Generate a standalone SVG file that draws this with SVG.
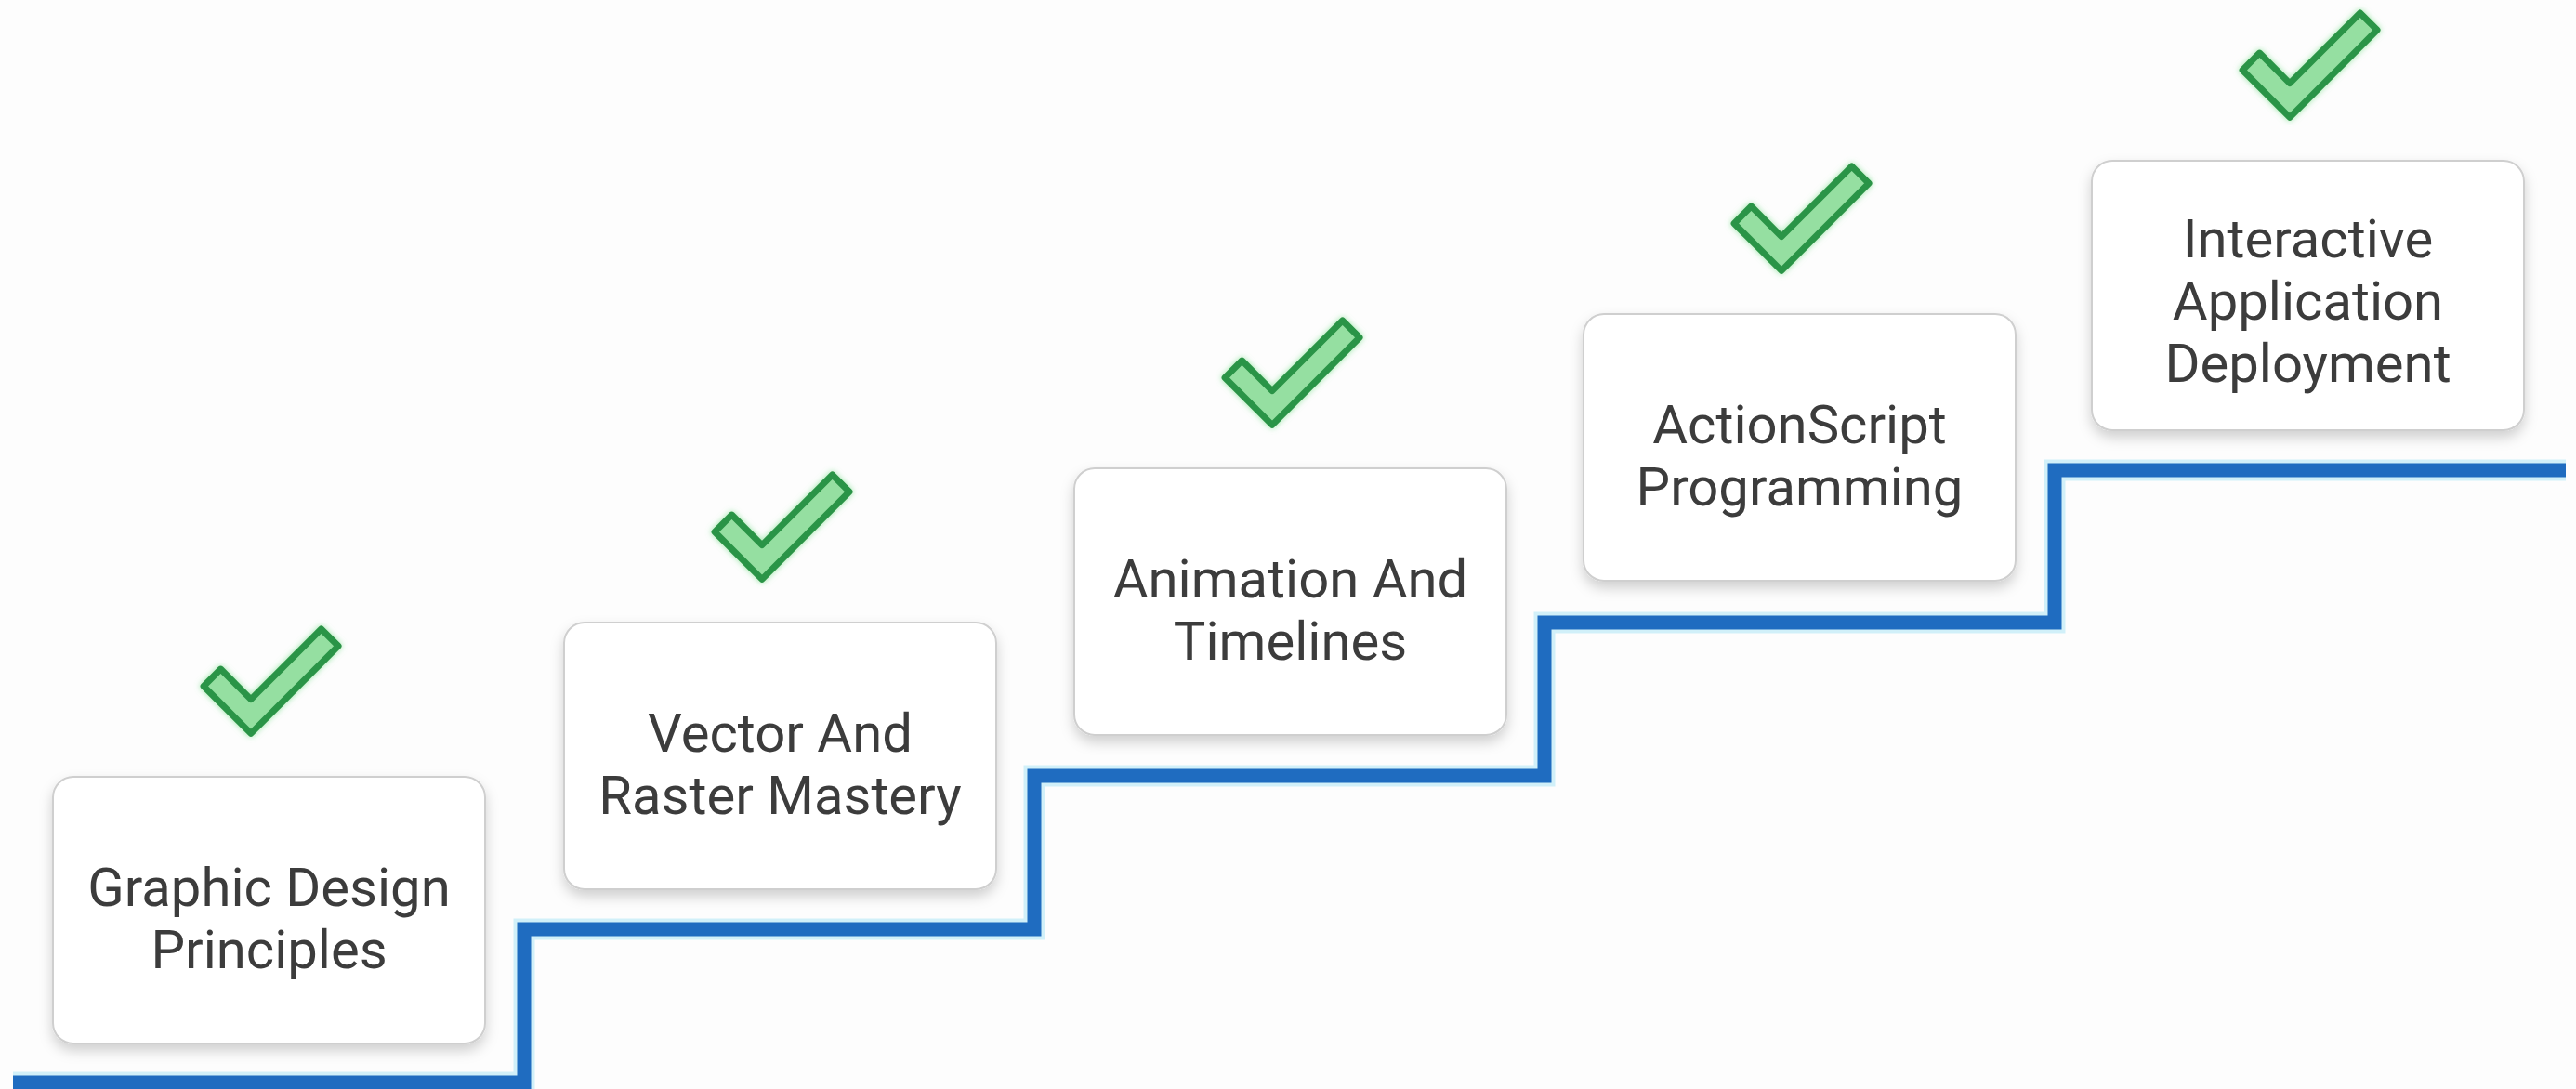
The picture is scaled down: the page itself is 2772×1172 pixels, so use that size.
<svg xmlns="http://www.w3.org/2000/svg" width="2772" height="1172" viewBox="0 0 2772 1172">
<defs>
<filter id="shadow" x="-10%" y="-10%" width="120%" height="130%">
<feDropShadow dx="0" dy="7" stdDeviation="7" flood-color="#000" flood-opacity="0.18"/>
</filter>
<filter id="glow" x="-30%" y="-30%" width="160%" height="160%">
<feDropShadow dx="0" dy="0" stdDeviation="3" flood-color="#7ee08f" flood-opacity="0.8"/>
</filter>
<g id="check">
<polygon points="-59,-13 -13,-13 -13,-120 13,-120 13,13 -59,13" transform="rotate(45)" fill="#95dfa1" stroke="#2b9447" stroke-width="7" stroke-linejoin="round"/>
</g>
</defs>
<style>
.box{fill:#ffffff;stroke:#cfcfcf;stroke-width:2;filter:url(#shadow)}
.lbl{font-family:Roboto,"Liberation Sans",sans-serif;font-size:58px;fill:#3c3c3c;text-anchor:middle}
.stair{fill:none;stroke:#1f6cc0;stroke-width:15;stroke-linejoin:miter;stroke-linecap:butt}
.stairglow{fill:none;stroke:#c6ecf8;stroke-width:23;stroke-linejoin:miter;opacity:0.8}
.chk{filter:url(#glow)}
</style>
<rect width="2772" height="1172" fill="#fdfdfd"/>
<g id="connectors">
<path class="stairglow" d="M14,1165 H564 V1000 H1113 V835 H1662 V670 H2211 V506 H2761"/>
<path class="stair" d="M14,1165 H564 V1000 H1113 V835 H1662 V670 H2211 V506 H2761"/>
</g>
<g id="node1">
<rect class="box" x="57" y="836" width="465" height="287" rx="22"/>
<text class="lbl" x="289.5" y="975">Graphic Design</text>
<text class="lbl" x="289.5" y="1042">Principles</text>
<use href="#check" class="chk" transform="translate(270,771)"/>
</g>
<g id="node2">
<rect class="box" x="607" y="670" width="465" height="287" rx="22"/>
<text class="lbl" x="839.5" y="809">Vector And</text>
<text class="lbl" x="839.5" y="876">Raster Mastery</text>
<use href="#check" class="chk" transform="translate(820,605)"/>
</g>
<g id="node3">
<rect class="box" x="1156" y="504" width="465" height="287" rx="22"/>
<text class="lbl" x="1388.5" y="643">Animation And</text>
<text class="lbl" x="1388.5" y="710">Timelines</text>
<use href="#check" class="chk" transform="translate(1369,439)"/>
</g>
<g id="node4">
<rect class="box" x="1704" y="338" width="465" height="287" rx="22"/>
<text class="lbl" x="1936.5" y="477">ActionScript</text>
<text class="lbl" x="1936.5" y="544">Programming</text>
<use href="#check" class="chk" transform="translate(1917,273)"/>
</g>
<g id="node5">
<rect class="box" x="2251" y="173" width="465" height="290" rx="22"/>
<text class="lbl" x="2483.5" y="277">Interactive</text>
<text class="lbl" x="2483.5" y="344">Application</text>
<text class="lbl" x="2483.5" y="411">Deployment</text>
<use href="#check" class="chk" transform="translate(2464,108)"/>
</g>
</svg>
